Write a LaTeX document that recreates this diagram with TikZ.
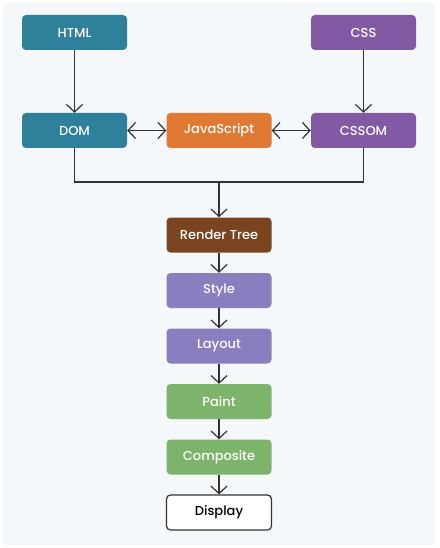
\documentclass[tikz,border=0pt]{standalone}
\usepackage{fontspec}
\setmainfont{Poppins Medium}
\usetikzlibrary{arrows.meta, positioning}

\definecolor{domteal}{HTML}{2E809B}
\definecolor{cssviolet}{HTML}{8259A3}
\definecolor{jsorange}{HTML}{E07934}
\definecolor{treebrown}{HTML}{7A4421}
\definecolor{stagelilac}{HTML}{8A7EBF}
\definecolor{paintgreen}{HTML}{7DB36B}
\definecolor{bgpaper}{HTML}{F5F8FA}
\definecolor{wire}{HTML}{333333}

\begin{document}
\begin{tikzpicture}[x=1pt,y=1pt,node distance=55.5pt,on grid,
    stage/.style={rectangle, rounded corners=4pt, minimum width=105pt, minimum height=35pt,
        inner sep=0pt, font=\fontsize{13}{15}\selectfont, text=white},
    flow/.style={draw=wire, line width=1.2pt, -{Straight Barb[length=7.5pt,width=16pt]}},
    twoway/.style={flow, {Straight Barb[length=7.5pt,width=16pt]}-{Straight Barb[length=7.5pt,width=16pt]}}]
        \useasboundingbox (0,0) rectangle (439,-548);
        \fill[bgpaper] (3,-3) rectangle (435,-545);

        \node[stage, fill=domteal]      (html)      at (74.5,-32.5)        {HTML};
        \node[stage, fill=domteal]      (dom)       [below=98pt of html]   {DOM};
        \node[stage, fill=jsorange]     (js)        [right=144.5pt of dom] {JavaScript};
        \node[stage, fill=cssviolet]    (cssom)     [right=144.5pt of js]  {CSSOM};
        \node[stage, fill=cssviolet]    (css)       [above=98pt of cssom]  {CSS};
        \coordinate[below=51.5pt of js] (join);
        \node[stage, fill=treebrown]    (render)    [below=104.5pt of js]  {Render Tree};
        \node[stage, fill=stagelilac]   (style)     [below=of render]      {Style};
        \node[stage, fill=stagelilac]   (layout)    [below=of style]       {Layout};
        \node[stage, fill=paintgreen]   (paint)     [below=of layout]      {Paint};
        \node[stage, fill=paintgreen]   (composite) [below=of paint]       {Composite};
        \node[stage, draw=wire, line width=1.2pt, fill=white, text=black]
                                        (display)   [below=of composite]   {Display};

        \draw[flow] (html) -- (dom);
        \draw[flow] (css) -- (cssom);
        \draw[twoway] (dom) -- (js);
        \draw[twoway] (js) -- (cssom);
        \draw[draw=wire, line width=1.2pt] (dom) -- (dom |- join) -- (cssom |- join) -- (cssom);
        \draw[flow] (join) -- (render);
        \foreach \a/\b in {render/style, style/layout, layout/paint, paint/composite, composite/display}
            \draw[flow] (\a) -- (\b);
    \end{tikzpicture}
\end{document}
